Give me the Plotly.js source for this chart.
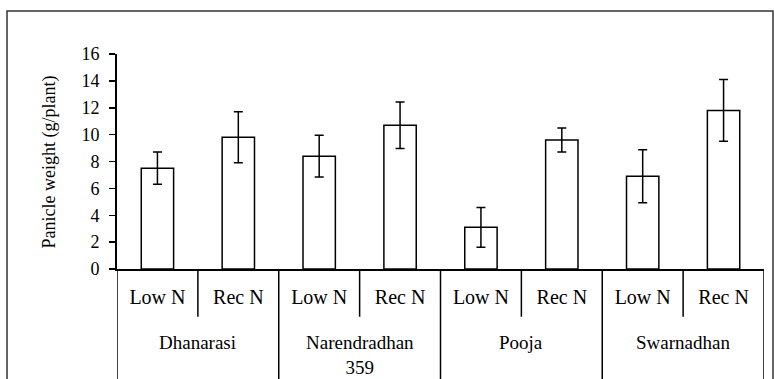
<!DOCTYPE html>
<html>
<head>
<meta charset="utf-8">
<script src="https://cdn.plot.ly/plotly-3.0.1.min.js"></script>
<style>html,body{margin:0;padding:0;background:#fff;overflow:hidden}#chart{width:774px;height:379px}</style>
</head>
<body>
<div id="chart"></div>
<script>
var varieties = ['Dhanarasi', 'Narendradhan<br>359', 'Pooja', 'Swarnadhan'];
var treatments = ['Low N', 'Rec N'];
var lowN = [7.5, 8.4, 3.1, 6.9];
var lowNErr = [1.2, 1.55, 1.48, 1.97];
var recN = [9.8, 10.7, 9.6, 11.8];
var recNErr = [1.9, 1.73, 0.9, 2.3];
var yTicks = [0, 2, 4, 6, 8, 10, 12, 14, 16];
var yTitle = 'Panicle weight (g/plant)';

var cats = [], ys = [], errs = [], ticktext = [];
varieties.forEach(function (v, i) {
  treatments.forEach(function (t, j) {
    cats.push(v.replace('<br>', ' ') + ' | ' + t);
    ticktext.push(t);
    ys.push(j === 0 ? lowN[i] : recN[i]);
    errs.push(j === 0 ? lowNErr[i] : recNErr[i]);
  });
});

var FONT = 'Liberation Serif';
var shapes = [];
shapes.push({type: 'rect', xref: 'paper', yref: 'paper', x0: -0.170, x1: 1.0139, y0: -0.7, y1: 1.2,
  line: {color: '#333', width: 1.5}});
for (var k = 0; k <= varieties.length; k++) {
  shapes.push({type: 'line', xref: 'x', yref: 'paper', x0: 2 * k - 0.5, x1: 2 * k - 0.5, y0: 0, y1: -0.7,
    line: {color: '#000', width: 1.5}});
}
for (var k2 = 0; k2 < varieties.length; k2++) {
  shapes.push({type: 'line', xref: 'x', yref: 'paper', x0: 2 * k2 + 0.5, x1: 2 * k2 + 0.5, y0: 0, y1: -0.222,
    line: {color: '#000', width: 1.5}});
}
var annotations = varieties.map(function (v, i) {
  return {text: v, xref: 'x', yref: 'paper', x: 2 * i + 0.5, y: -0.285, yanchor: 'top', xanchor: 'center',
    showarrow: false, font: {family: FONT, size: 19, color: '#000'}, align: 'center'};
});
annotations.push({text: yTitle, xref: 'paper', yref: 'paper', x: -0.1036, y: 0.5, xanchor: 'center', yanchor: 'middle',
  textangle: -90, showarrow: false, font: {family: FONT, size: 18, color: '#000'}});

var trace = {
  type: 'bar', x: cats, y: ys, width: 0.4,
  marker: {color: '#fff', line: {color: '#000', width: 1.5}},
  error_y: {type: 'data', array: errs, symmetric: true, color: '#000', thickness: 1.5, width: 4.5},
  hoverinfo: 'none'
};

var layout = {
  width: 774, height: 379,
  margin: {l: 117, r: 10, t: 54, b: 110},
  paper_bgcolor: '#fff', plot_bgcolor: '#fff',
  showlegend: false,
  font: {family: FONT, color: '#000', size: 18},
  xaxis: {
    type: 'category', tickmode: 'array', tickvals: cats, ticktext: ticktext,
    showline: true, linecolor: '#000', linewidth: 2, ticks: '', showgrid: false,
    tickfont: {family: FONT, size: 20, color: '#000'}, ticklabelstandoff: 9,
    range: [-0.5, 7.5]
  },
  yaxis: {
    range: [0, 16], tickmode: 'array', tickvals: yTicks, showgrid: false, zeroline: false,
    showline: true, linecolor: '#000', linewidth: 2, ticks: 'outside', ticklen: 6, tickwidth: 1.5, tickcolor: '#000',
    tickfont: {family: FONT, size: 18, color: '#000'}, ticklabelstandoff: 6
  },
  shapes: shapes,
  annotations: annotations
};

Plotly.newPlot('chart', [trace], layout, {staticPlot: true, displayModeBar: false});
</script>
</body>
</html>
